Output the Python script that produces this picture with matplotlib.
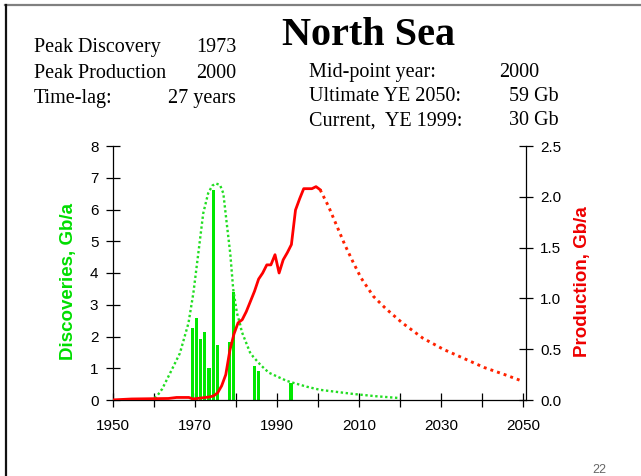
import matplotlib
matplotlib.use('Agg')
import matplotlib.pyplot as plt
from matplotlib.lines import Line2D
import numpy as np

# ---------------- data ----------------
disc_years = [1969, 1970, 1971, 1972, 1973, 1974, 1975, 1978, 1979, 1984, 1985, 1993]
disc_values = [2.28, 2.58, 1.92, 2.14, 1.01, 6.61, 1.73, 1.83, 3.40, 1.07, 0.92, 0.52]

trend_years = [1959.0, 1960.6, 1962.0, 1963.9, 1966.3, 1968.4, 1969.6, 1970.8, 1972.0,
               1973.2, 1974.2, 1975.1, 1976.1, 1976.9, 1977.7, 1978.6, 1979.3, 1980.2,
               1981.0, 1981.4, 1983.4, 1984.2, 1986.0, 1988.0, 1992.4, 1997.2, 2000.5,
               2008.6, 2014.0, 2020.0]
trend_values = [0.0, 0.10, 0.35, 0.84, 1.47, 2.42, 3.37, 4.62, 5.88,
                6.51, 6.75, 6.82, 6.77, 6.51, 5.60, 4.60, 3.50, 2.75,
                2.38, 2.15, 1.50, 1.36, 1.10, 0.86, 0.60, 0.42, 0.32,
                0.19, 0.12, 0.06]

prod_years = [1949, 1954, 1963, 1965, 1968, 1969, 1971, 1973, 1974, 1975, 1976, 1977,
              1978, 1979, 1980, 1981, 1982, 1983, 1984, 1985, 1986, 1987, 1988, 1989,
              1990, 1991, 1992, 1993, 1994, 1995, 1996, 1997, 1998, 1999, 2000]
prod_values = [0.0, 0.01, 0.015, 0.025, 0.025, 0.01, 0.02, 0.03, 0.04, 0.07, 0.14, 0.25,
               0.49, 0.65, 0.76, 0.79, 0.87, 0.97, 1.07, 1.19, 1.25, 1.33, 1.33, 1.43,
               1.25, 1.38, 1.45, 1.53, 1.87, 1.98, 2.08, 2.08, 2.08, 2.10, 2.07]

fc_years = [2000, 2002, 2004, 2006, 2008, 2010, 2013, 2016, 2020, 2025, 2030, 2035,
            2040, 2045, 2049]
fc_values = [2.07, 1.91, 1.72, 1.53, 1.36, 1.20, 1.02, 0.90, 0.76, 0.61, 0.50, 0.41,
             0.32, 0.25, 0.19]

x_ticks = list(range(1950, 2051, 10))
x_labels = ['1950', '', '1970', '', '1990', '', '2010', '', '2030', '', '2050']
left_ticks = list(range(0, 9))
right_ticks = [0.0, 0.5, 1.0, 1.5, 2.0, 2.5]

left_lines = [("Peak Discovery", "1973"), ("Peak Production", "2000"), ("Time-lag:", "27 years")]
right_lines = [("Mid-point year:", "2000"), ("Ultimate YE 2050:", "59 Gb"), ("Current,  YE 1999:", "30 Gb")]

# ---------------- figure ----------------
W, H = 641, 476
fig = plt.figure(figsize=(W / 100, H / 100), dpi=100)
fig.patch.set_facecolor('white')


def fx(x):
    return x / W


def fy(y):
    return 1 - y / H


SANS = 'Liberation Sans'
SERIF = 'Liberation Serif'

ax = fig.add_axes([fx(113), fy(400), fx(526) - fx(113), fy(146) - fy(400)])
ax2 = ax.twinx()

bar_green = '#00e800'
ax.bar(np.array(disc_years) + 0.4, disc_values, width=0.75, color=bar_green, zorder=2,
       linewidth=0)
ax.plot(trend_years, trend_values, color='#22dd22', lw=1.7, linestyle=(0, (1, 1.1)),
        zorder=3, solid_capstyle='butt')

ax2.plot(np.array(prod_years) + 0.5, prod_values, color='#ff0000', lw=2.0, zorder=3)
ax2.plot(np.array(fc_years) + 0.5, fc_values, color='#ff2200', lw=2.1,
         linestyle=(0, (1, 1.4)), zorder=3)

ax.set_xlim(1950, 2050.7)
ax.set_ylim(0, 8)
ax2.set_ylim(0, 2.5)

ax.set_xticks(x_ticks)
ax.set_xticklabels(x_labels, fontsize=11, family=SANS)
ax.set_yticks(left_ticks)
ax.set_yticklabels([str(t) for t in left_ticks], fontsize=11, family=SANS)
ax2.set_yticks(right_ticks)
ax2.set_yticklabels(['%.1f' % t for t in right_ticks], fontsize=11, family=SANS)

ax.tick_params(axis='x', direction='inout', length=10, width=0.9, pad=9, colors='black')
ax.tick_params(axis='y', direction='inout', length=10, width=0.9, pad=5.5, colors='black')
ax2.tick_params(axis='y', direction='inout', length=10, width=0.9, pad=5, colors='black')

for a in (ax, ax2):
    a.spines['top'].set_visible(False)
    a.patch.set_visible(False)
ax.spines['right'].set_visible(False)
ax2.spines['left'].set_visible(False)
for s in ('left', 'bottom'):
    ax.spines[s].set_linewidth(0.9)
ax2.spines['right'].set_linewidth(0.9)
ax2.spines['bottom'].set_visible(False)

# axis labels
fig.text(fx(69), fy(282), 'Discoveries, Gb/a', rotation=90, ha='center', va='center',
         color='#00dd00', fontsize=13.5, fontweight='bold', family=SANS)
fig.text(fx(582), fy(282), 'Production, Gb/a', rotation=90, ha='center', va='center',
         color='#ee0000', fontsize=13.5, fontweight='bold', family=SANS)

# title and info text
fig.text(fx(369), fy(45), 'North Sea', ha='center', va='baseline', fontsize=29,
         fontweight='bold', family=SERIF)

for i, (lab, val) in enumerate(left_lines):
    yb = 52 + i * 25.5
    fig.text(fx(34), fy(yb), lab, ha='left', va='baseline', fontsize=14.5, family=SERIF)
    fig.text(fx(236), fy(yb), val, ha='right', va='baseline', fontsize=14.5, family=SERIF)

for i, (lab, val) in enumerate(right_lines):
    yb = 77 + i * 24.2
    fig.text(fx(309), fy(yb), lab, ha='left', va='baseline', fontsize=14.5, family=SERIF)
    if i == 0:
        fig.text(fx(499), fy(yb), val, ha='left', va='baseline', fontsize=14.5, family=SERIF)
    else:
        fig.text(fx(559), fy(yb), val, ha='right', va='baseline', fontsize=14.5, family=SERIF)

fig.text(fx(599), fy(470), '22', ha='center', va='center', fontsize=9, color='#666666',
         family=SANS)

# slide frame
fig.add_artist(Line2D([fx(5), 1.0], [fy(5), fy(5)], color='#808080', lw=1.6,
                      transform=fig.transFigure))
fig.add_artist(Line2D([fx(6), fx(6)], [fy(5), 0.0], color='#111111', lw=1.6,
                      transform=fig.transFigure))

fig.savefig('out.png', dpi=100)
